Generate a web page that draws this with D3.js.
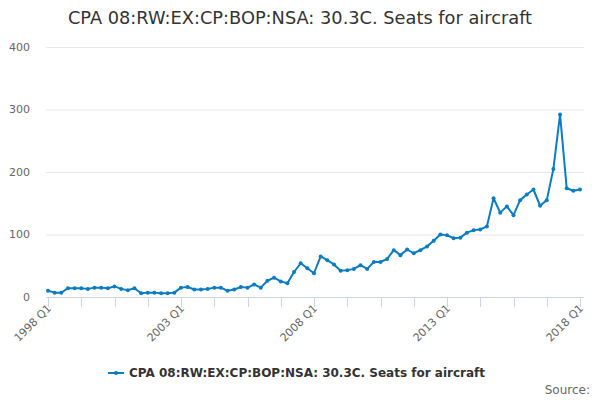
<!DOCTYPE html>
<html>
<head>
<meta charset="utf-8">
<script src="https://cdn.jsdelivr.net/npm/d3@7"></script>
<style>
  body { margin: 0; background: #fff; }
  svg { font-family: "DejaVu Sans", sans-serif; }
</style>
</head>
<body>
<svg id="chart"></svg>
<script>
const title = 'CPA 08:RW:EX:CP:BOP:NSA: 30.3C. Seats for aircraft'
const seriesName = 'CPA 08:RW:EX:CP:BOP:NSA: 30.3C. Seats for aircraft'
const startYear = 1998
const values = [
  10, 7, 7, 14, 14, 14, 13, 15, 15, 14, 17, 13, 11, 14, 6, 7, 7, 6, 6, 7,
  15, 16, 12, 12, 13, 15, 15, 10, 12, 16, 15, 20, 15, 26, 31, 25, 22, 40, 54, 46,
  38, 65, 59, 52, 42, 43, 45, 51, 45, 56, 56, 61, 75, 67, 76, 70, 75, 81, 90, 100,
  99, 94, 95, 103, 107, 108, 113, 158, 135, 145, 131, 155, 164, 172, 146, 155, 205, 292, 174, 170,
  172
]
const yTicks = [0, 100, 200, 300, 400]
const xLabelYears = [1998, 2003, 2008, 2013, 2018]

const width = 600, height = 400
const plot = {left: 46, right: 584, top: 47, bottom: 297}

const svg = d3.select('#chart')
  .attr('width', width)
  .attr('height', height)

// each point is one quarter from 1998 Q1
const data = values.map((v, i) => ({q: i, value: v}))

const x = d3.scaleLinear()
  .domain([0, values.length - 1])
  .range([48, 580])

const y = d3.scaleLinear()
  .domain([0, 400])
  .range([plot.bottom, plot.top])

// gridlines
svg.append('g')
  .selectAll('line')
  .data(yTicks.filter(d => d !== 0))
  .join('line')
    .attr('x1', plot.left)
    .attr('x2', plot.right)
    .attr('y1', d => y(d) + 0.5)
    .attr('y2', d => y(d) + 0.5)
    .attr('stroke', '#e6e6e6')

// y labels
svg.append('g')
  .selectAll('text')
  .data(yTicks)
  .join('text')
    .attr('x', 30)
    .attr('y', d => y(d))
    .attr('dy', '0.35em')
    .attr('text-anchor', 'end')
    .attr('font-size', '11px')
    .attr('fill', '#666')
    .text(d => d)

// x axis line + ticks every 5 quarters
svg.append('line')
  .attr('x1', plot.left)
  .attr('x2', plot.right)
  .attr('y1', plot.bottom + 0.5)
  .attr('y2', plot.bottom + 0.5)
  .attr('stroke', '#ccd6eb')

const tickQs = d3.range(0, values.length, 5)
svg.append('g')
  .selectAll('line')
  .data(tickQs)
  .join('line')
    .attr('x1', d => Math.round(x(d)) + 0.5)
    .attr('x2', d => Math.round(x(d)) + 0.5)
    .attr('y1', plot.bottom)
    .attr('y2', plot.bottom + 10)
    .attr('stroke', '#ccd6eb')

svg.append('g')
  .selectAll('text')
  .data(xLabelYears)
  .join('text')
    .attr('transform', d => `translate(${x((d - startYear) * 4) + 4},${plot.bottom + 12}) rotate(-45)`)
    .attr('text-anchor', 'end')
    .attr('font-size', '11px')
    .attr('fill', '#666')
    .text(d => `${d} Q1`)

// series
const color = '#0a7cc1'
svg.append('path')
  .datum(data)
  .attr('fill', 'none')
  .attr('stroke', color)
  .attr('stroke-width', 2)
  .attr('stroke-linejoin', 'round')
  .attr('d', d3.line().x(d => x(d.q)).y(d => y(d.value)))

svg.append('g')
  .selectAll('circle')
  .data(data)
  .join('circle')
    .attr('cx', d => x(d.q))
    .attr('cy', d => y(d.value))
    .attr('r', 2)
    .attr('fill', color)

// title
svg.append('text')
  .attr('x', width / 2)
  .attr('y', 24)
  .attr('text-anchor', 'middle')
  .attr('font-size', '17.8px')
  .attr('fill', '#333')
  .text(title)

// legend
const legend = svg.append('g').attr('transform', 'translate(108,373)')
legend.append('line')
  .attr('x1', 0).attr('x2', 16)
  .attr('y1', 0).attr('y2', 0)
  .attr('stroke', color).attr('stroke-width', 2)
legend.append('circle')
  .attr('cx', 8).attr('cy', 0).attr('r', 2).attr('fill', color)
legend.append('text')
  .attr('x', 21)
  .attr('y', 0)
  .attr('dy', '0.35em')
  .attr('font-size', '12px')
  .attr('font-weight', 'bold')
  .attr('fill', '#333')
  .text(seriesName)

svg.append('text')
  .attr('x', 590)
  .attr('y', 394)
  .attr('text-anchor', 'end')
  .attr('font-size', '12px')
  .attr('fill', '#666')
  .text('Source:')
</script>
</body>
</html>
